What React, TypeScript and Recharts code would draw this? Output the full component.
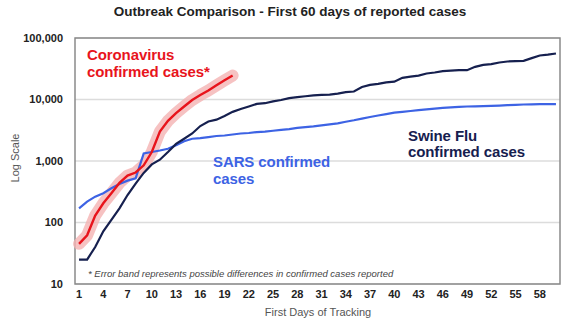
import {
  LineChart,
  Line,
  XAxis,
  YAxis,
  CartesianGrid,
  ReferenceArea,
} from "recharts";

// day 1..60
const coronavirus = [
  45, 62, 130, 205, 300, 440, 580, 650, 850, 1400, 3000, 4500, 6000, 7700,
  9800, 11800, 14000, 17000, 20500, 24500,
];

const swineFlu = [
  25, 25, 40, 72, 110, 170, 280, 430, 640, 880, 1050, 1400, 1900, 2300, 2800,
  3700, 4400, 4700, 5400, 6300, 7000, 7700, 8500, 8700, 9300, 9800, 10500,
  10900, 11300, 11700, 11900, 12000, 12500, 13200, 13500, 16000, 17300, 18000,
  19000, 19500, 22500, 23500, 24500, 26500, 27500, 29000, 29500, 30000, 30000,
  34000, 36500, 37500, 40000, 41500, 42000, 42500, 47000, 52000, 53500, 56000,
];

const sars = [
  170, 218, 263, 300, 360, 423, 479, 524, 1330, 1400, 1480, 1580, 1800, 2100,
  2300, 2350, 2450, 2550, 2600, 2700, 2800, 2850, 2950, 3000, 3100, 3200, 3300,
  3450, 3550, 3650, 3800, 3950, 4100, 4350, 4600, 4900, 5200, 5500, 5800, 6100,
  6300, 6500, 6700, 6900, 7100, 7300, 7450, 7600, 7700, 7750, 7800, 7850, 7950,
  8100, 8200, 8300, 8350, 8400, 8400, 8400,
];

const xTicks = [1, 4, 7, 10, 13, 16, 19, 22, 25, 28, 31, 34, 37, 40, 43, 46, 49, 52, 55, 58];
const yTicks = [10, 100, 1000, 10000, 100000];

const data = swineFlu.map((v, i) => ({
  day: i + 1,
  swine: v,
  sars: sars[i],
  corona: coronavirus[i],
}));

const FONT = "'Liberation Sans', Arial, sans-serif";

const label = (
  left: number,
  top: number,
  color: string,
  lines: string[],
  lh = 17
) => (
  <div
    style={{
      position: "absolute",
      left,
      top,
      color,
      fontFamily: FONT,
      fontWeight: 700,
      fontSize: 15,
      lineHeight: `${lh}px`,
      letterSpacing: -0.1,
      whiteSpace: "nowrap",
    }}
  >
    {lines.map((l) => (
      <div key={l}>{l}</div>
    ))}
  </div>
);

export default function App() {
  return (
    <div
      style={{
        position: "absolute",
        left: 0,
        top: 0,
        width: 570,
        height: 326,
        background: "#fff",
        fontFamily: FONT,
      }}
    >
      <div
        style={{
          position: "absolute",
          left: 0,
          top: 4,
          width: 580,
          textAlign: "center",
          fontSize: 13.5,
          fontWeight: 700,
          color: "#222",
        }}
      >
        Outbreak Comparison - First 60 days of reported cases
      </div>
      <LineChart
        width={570}
        height={326}
        data={data}
        margin={{ top: 38, right: 10, bottom: 12, left: 0 }}
      >
        <CartesianGrid vertical={false} stroke="#dcdcdc" strokeWidth={1.5} />
        <ReferenceArea
          x1={0.5}
          x2={60.5}
          y1={10}
          y2={100000}
          fill="none"
          stroke="#8a8a8a"
          strokeWidth={1.5}
          ifOverflow="extendDomain"
        />
        <XAxis
          dataKey="day"
          type="number"
          domain={[0.5, 60.5]}
          ticks={xTicks}
          interval={0}
          height={30}
          axisLine={false}
          tickLine={false}
          tickSize={0}
          tickMargin={6}
          tick={{ fill: "#222", fontSize: 11, fontWeight: 700 }}
        />
        <YAxis
          scale="log"
          domain={[10, 100000]}
          ticks={yTicks}
          width={75}
          axisLine={false}
          tickLine={false}
          tickSize={0}
          tickMargin={12}
          tickFormatter={(v: number) => v.toLocaleString("en-US")}
          tick={{ fill: "#222", fontSize: 11, fontWeight: 700 }}
          allowDataOverflow
        />
        <Line
          dataKey="corona"
          stroke="#f4b3b3"
          strokeOpacity={0.8}
          strokeWidth={12}
          strokeLinecap="round"
          strokeLinejoin="round"
          dot={false}
          isAnimationActive={false}
        />
        <Line
          dataKey="sars"
          stroke="#3d63e4"
          strokeWidth={2.2}
          dot={false}
          isAnimationActive={false}
        />
        <Line
          dataKey="swine"
          stroke="#16204f"
          strokeWidth={2.2}
          dot={false}
          isAnimationActive={false}
        />
        <Line
          dataKey="corona"
          stroke="#e8141c"
          strokeWidth={2.4}
          dot={false}
          isAnimationActive={false}
        />
      </LineChart>
      {label(87, 46, "#e8141c", ["Coronavirus", "confirmed cases*"])}
      {label(213, 153, "#3d63e4", ["SARS confirmed", "cases"])}
      {label(408, 128, "#16204f", ["Swine Flu", "confirmed cases"], 16)}
      <div
        style={{
          position: "absolute",
          left: 88,
          top: 268,
          fontSize: 9.5,
          fontStyle: "italic",
          color: "#444",
          whiteSpace: "nowrap",
        }}
      >
        * Error band represents possible differences in confirmed cases reported
      </div>
      <div
        style={{
          position: "absolute",
          left: 318,
          top: 306,
          transform: "translateX(-50%)",
          fontSize: 11,
          color: "#555",
          whiteSpace: "nowrap",
        }}
      >
        First Days of Tracking
      </div>
      <div
        style={{
          position: "absolute",
          left: 15,
          top: 158,
          transform: "translate(-50%, -50%) rotate(-90deg)",
          fontSize: 11,
          color: "#555",
          whiteSpace: "nowrap",
        }}
      >
        Log Scale
      </div>
    </div>
  );
}
